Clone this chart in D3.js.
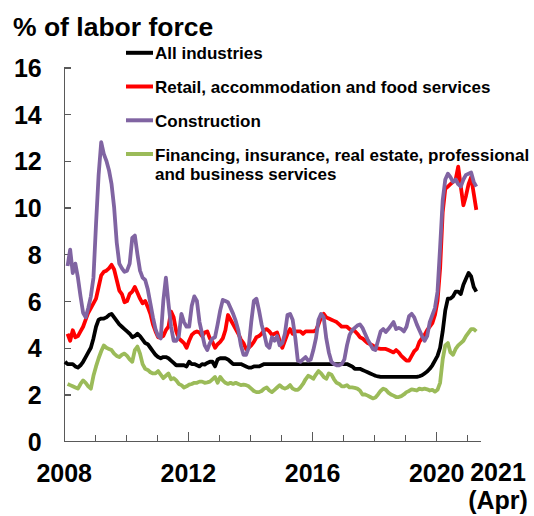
<!DOCTYPE html>
<html lang="en">
	<head>
		<meta charset="utf-8">
		<title>Unemployment by industry</title>
		<script type="text/javascript" src="https://cdn.jsdelivr.net/npm/d3@7"></script>
		<style>
			body { margin: 0; background: #fff; }
			text { font-family: "Liberation Sans", Arial, sans-serif; font-weight: bold; fill: #000; }
			.axis path, .axis line { fill: none; stroke: #595959; stroke-width: 1.25px; shape-rendering: crispEdges; }
			.series { fill: none; stroke-width: 3.8px; stroke-linejoin: round; }
		</style>
	</head>
	<body>
		<script type="text/javascript">

			// monthly, Jan 2008 .. Apr 2021 (% of labor force)
			var allIndustries = [
				3.4, 3.3, 3.3, 3.3, 3.2, 3.15, 3.25, 3.4, 3.6, 3.8, 4.0, 4.4,
				4.9, 5.2, 5.25, 5.25, 5.3, 5.4, 5.45, 5.3, 5.15, 5.0, 4.9, 4.8,
				4.7, 4.6, 4.45, 4.5, 4.6, 4.5, 4.35, 4.2, 4.15, 4.0, 3.85, 3.7,
				3.6, 3.55, 3.6, 3.6, 3.55, 3.45, 3.35, 3.25, 3.25, 3.25, 3.25, 3.2,
				3.4, 3.3, 3.3, 3.25, 3.2, 3.3, 3.28, 3.35, 3.4, 3.4, 3.2, 3.5,
				3.55, 3.55, 3.55, 3.5, 3.4, 3.3, 3.3, 3.3, 3.3, 3.25, 3.2, 3.15,
				3.15, 3.2, 3.2, 3.2, 3.25, 3.3, 3.3, 3.3, 3.3, 3.3, 3.3, 3.3,
				3.3, 3.3, 3.3, 3.3, 3.3, 3.3, 3.3, 3.3, 3.3, 3.3, 3.3, 3.3,
				3.3, 3.3, 3.3, 3.3, 3.3, 3.3, 3.3, 3.3, 3.3, 3.3, 3.3, 3.3,
				3.3, 3.3, 3.25, 3.2, 3.1, 3.1, 3.1, 3.05, 3.0, 2.95, 2.9, 2.85,
				2.8, 2.77, 2.75, 2.75, 2.75, 2.75, 2.75, 2.75, 2.75, 2.75, 2.75, 2.75,
				2.75, 2.75, 2.75, 2.75, 2.75, 2.78, 2.82, 2.9, 2.98, 3.1, 3.25, 3.45,
				3.65, 4.0, 4.7, 5.6, 6.1, 6.1, 6.2, 6.4, 6.4, 6.3, 6.7, 6.95,
				7.2, 7.05, 6.6, 6.4
			];

			var retail = [
				null, 4.6, 4.3, 4.75, 4.45, 4.5, 4.7, 4.9, 5.2, 5.5, 5.7, 5.9,
				6.1, 6.6, 7.1, 7.25, 7.3, 7.4, 7.55, 7.35, 6.9, 6.45, 6.3, 5.95,
				6.0, 6.3, 6.4, 6.6, 6.35, 6.1, 5.9, 6.0, 5.75, 5.45, 5.0, 4.7,
				4.45, 4.45, 4.5, 4.75, 4.9, 5.55, 5.3, 4.7, 4.4, 4.3, 4.2, 4.0,
				4.3, 4.55, 4.65, 4.7, 4.65, 4.5, 4.65, 4.7, 4.4, 4.25, 4.0, 4.15,
				4.25, 4.4, 4.75, 5.4, 5.2, 5.0, 4.8, 4.6, 4.35, 4.2, 3.95, 4.0,
				4.1, 4.25, 4.45, 4.5, 4.6, 4.75, 4.8, 4.7, 4.55, 4.6, 4.65, 4.3,
				4.0, 4.3, 4.6, 4.8, 4.6, 4.7, 4.7, 4.7, 4.6, 4.7, 4.7, 4.7,
				4.7, 4.75, 5.0, 5.3, 5.45, 5.3, 5.25, 5.2, 5.15, 5.1, 5.0, 4.9,
				4.9, 4.9, 4.8, 4.75, 4.72, 4.6, 4.45, 4.4, 4.3, 4.2, 4.15, 4.1,
				4.0, 3.97, 3.95, 3.95, 3.95, 3.9, 3.85, 3.8, 3.9, 3.8, 3.65, 3.55,
				3.45, 3.45, 3.65, 3.85, 3.95, 4.25, 4.4, 4.55, 4.75, 4.9, 5.05, 5.4,
				6.0, 7.4, 9.8, 10.8, 10.9, 11.0, 11.1, 11.2, 11.75, 10.9, 10.1, 10.5,
				11.0, 11.3, 10.6, 9.9
			];

			var construction = [
				null, 7.5, 8.2, 7.2, 7.6, 7.0, 6.2, 5.5, 5.3, 5.7, 6.2, 7.0,
				9.3, 11.4, 12.8, 12.3, 12.0, 11.6, 11.0, 10.0, 8.5, 7.6, 7.4, 7.25,
				7.3, 7.6, 8.7, 8.8, 8.0, 7.3, 7.0, 6.9, 6.5, 5.9, 5.3, 4.8,
				4.5, 4.4, 6.0, 7.0, 5.9, 4.9, 4.3, 4.3, 4.5, 5.45, 5.1, 4.9,
				4.9, 5.8, 6.2, 6.0, 5.1, 4.6, 4.1, 3.9, 4.2, 4.4, 4.45, 5.0,
				5.6, 6.05, 6.0, 5.95, 5.7, 5.45, 5.15, 4.75, 4.1, 3.7, 3.7, 4.0,
				5.1, 6.0, 6.1, 5.6, 5.0, 4.6, 4.1, 4.0, 4.45, 4.3, 4.5, 4.1,
				4.2, 4.6, 5.4, 5.45, 5.2, 4.45, 3.45, 3.4, 3.5, 3.6, 3.45, 3.5,
				3.9, 4.4, 5.2, 5.45, 5.3, 4.4, 3.8, 3.4, 3.3, 3.25, 3.25, 3.3,
				3.5, 4.1, 4.55, 4.75, 4.85, 4.95, 5.0, 4.85, 4.6, 4.35, 4.15, 3.95,
				3.9, 4.3, 4.7, 4.8, 4.67, 4.8, 4.95, 5.1, 4.8, 4.85, 4.8, 4.7,
				4.9, 5.35, 5.45, 5.3, 5.0, 4.75, 4.5, 4.3, 4.5, 5.1, 5.4, 5.7,
				6.4, 8.3, 10.3, 11.2, 11.45, 11.3, 11.1, 11.2, 11.0, 10.9, 11.2, 11.4,
				11.45, 11.5, 11.1, 10.9
			];

			var finance = [
				null, 2.45, 2.4, 2.35, 2.3, 2.25, 2.45, 2.6, 2.5, 2.35, 2.25, 2.8,
				3.2, 3.55, 3.85, 4.1, 4.0, 3.95, 3.9, 3.75, 3.65, 3.6, 3.7, 3.75,
				3.65, 3.5, 3.4, 3.9, 4.05, 3.75, 3.3, 3.1, 3.05, 2.95, 2.9, 2.9,
				3.0, 2.85, 2.7, 2.8, 2.9, 2.65, 2.7, 2.6, 2.45, 2.4, 2.3, 2.35,
				2.42, 2.45, 2.5, 2.5, 2.55, 2.55, 2.5, 2.52, 2.55, 2.65, 2.75, 2.5,
				2.75, 2.6, 2.5, 2.45, 2.5, 2.45, 2.5, 2.45, 2.4, 2.42, 2.4, 2.35,
				2.25, 2.15, 2.1, 2.1, 2.15, 2.25, 2.3, 2.17, 2.1, 2.2, 2.3, 2.4,
				2.3, 2.25, 2.3, 2.4, 2.25, 2.2, 2.2, 2.3, 2.45, 2.65, 2.8, 2.75,
				2.67, 2.85, 3.0, 2.9, 2.75, 2.67, 2.9, 2.85, 2.65, 2.5, 2.45, 2.35,
				2.35, 2.4, 2.3, 2.3, 2.28, 2.25, 2.17, 2.0, 2.0, 1.95, 1.89, 1.83,
				1.87, 2.0, 2.15, 2.25, 2.2, 2.08, 2.0, 1.95, 1.89, 1.89, 1.93, 2.0,
				2.1, 2.15, 2.22, 2.2, 2.17, 2.25, 2.22, 2.25, 2.22, 2.17, 2.2, 2.12,
				2.2, 2.5, 3.5, 4.1, 4.2, 3.8, 3.7, 3.95, 4.1, 4.2, 4.3, 4.5,
				4.65, 4.8, 4.8, 4.7
			];

			var seriesNames = [
				"All industries",
				"Retail, accommodation and food services",
				"Construction",
				"Financing, insurance, real estate, professional|and business services"
			];
			var seriesColors = ["#000000", "#ff0000", "#8064a2", "#9bbb59"];

			var yTicks = [0, 2, 4, 6, 8, 10, 12, 14, 16];
			var years = [2008, 2009, 2010, 2011, 2012, 2013, 2014, 2015, 2016, 2017, 2018, 2019, 2020, 2021];
			var yearLabels = [2008, 2012, 2016, 2020];
			var endLabel = ["2021", "(Apr)"];

			var w = 534;
			var h = 516;

			var svg = d3.select("body")
				.append("svg")
				.attr("width", w)
				.attr("height", h);

			// 161 monthly slots (Jan 2008 .. May 2021), points sit mid-slot
			var xScale = d3.scaleLinear()
				.domain([0, 161])
				.range([63.7, 480.2]);

			var yScale = d3.scaleLinear()
				.domain([0, 16])
				.range([441.2, 67.4]);

			// title
			svg.append("text")
				.attr("x", 13)
				.attr("y", 36)
				.style("font-size", "26.5px")
				.text("% of labor force");

			// y axis, ticks point inward
			var yAxis = d3.axisLeft(yScale)
				.tickValues(yTicks)
				.tickSizeInner(-7)
				.tickSizeOuter(0)
				.tickPadding(22);

			var gy = svg.append("g")
				.attr("class", "axis")
				.attr("transform", "translate(" + xScale(0) + ",0)")
				.call(yAxis);
			gy.selectAll("text")
				.style("font-size", "25px")
				.attr("dy", "0.36em");

			// x axis, one tick per year
			var xAxis = d3.axisBottom(xScale)
				.tickValues(years.map(function(y) { return (y - 2008) * 12; }))
				.tickSizeInner(-6)
				.tickSizeOuter(0)
				.tickFormat(function(d) {
					var yr = 2008 + d / 12;
					return yearLabels.indexOf(yr) >= 0 ? yr : "";
				});

			var gx = svg.append("g")
				.attr("class", "axis")
				.attr("transform", "translate(0," + yScale(0) + ")")
				.call(xAxis);
			gx.selectAll(".tick line")
				.attr("y2", function(d) {
					var yr = 2008 + d / 12;
					return (yr % 4 == 0 && yr > 2008) ? -9 : -6;
				});
			gx.selectAll("text")
				.style("font-size", "25px")
				.attr("y", 41)
				.attr("dy", null);

			// last label sits right of its tick, on two lines
			gx.selectAll(".endlabel")
				.data(endLabel)
				.enter()
				.append("text")
				.attr("class", "endlabel")
				.attr("text-anchor", "middle")
				.attr("x", 498)
				.attr("y", function(d, i) { return 40 + i * 28; })
				.style("font-size", "25px")
				.text(function(d) { return d; });

			// lines
			var allSeries = [allIndustries, retail, construction, finance];
			var line = d3.line()
				.defined(function(d) { return d != null; })
				.x(function(d, i) { return xScale(i + 0.5); })
				.y(function(d) { return yScale(d); });

			// draw order: finance, all, retail, construction on top
			var drawOrder = [3, 0, 1, 2];
			svg.append("g")
				.selectAll("path")
				.data(drawOrder)
				.enter()
				.append("path")
				.attr("class", "series")
				.attr("stroke", function(k) { return seriesColors[k]; })
				.attr("d", function(k) { return line(allSeries[k]); });

			// legend
			var legendY = [52.8, 86.5, 120.3, 154];
			var legend = svg.append("g");
			seriesNames.forEach(function(name, k) {
				legend.append("line")
					.attr("x1", 126)
					.attr("x2", 153)
					.attr("y1", legendY[k])
					.attr("y2", legendY[k])
					.attr("stroke", seriesColors[k])
					.attr("stroke-width", 4);
				var parts = name.split("|");
				parts.forEach(function(p, j) {
					legend.append("text")
						.attr("x", 155)
						.attr("y", legendY[k] + 6.5 + j * 19.3)
						.style("font-size", "17px")
						.text(p);
				});
			});

		</script>
	</body>
</html>
